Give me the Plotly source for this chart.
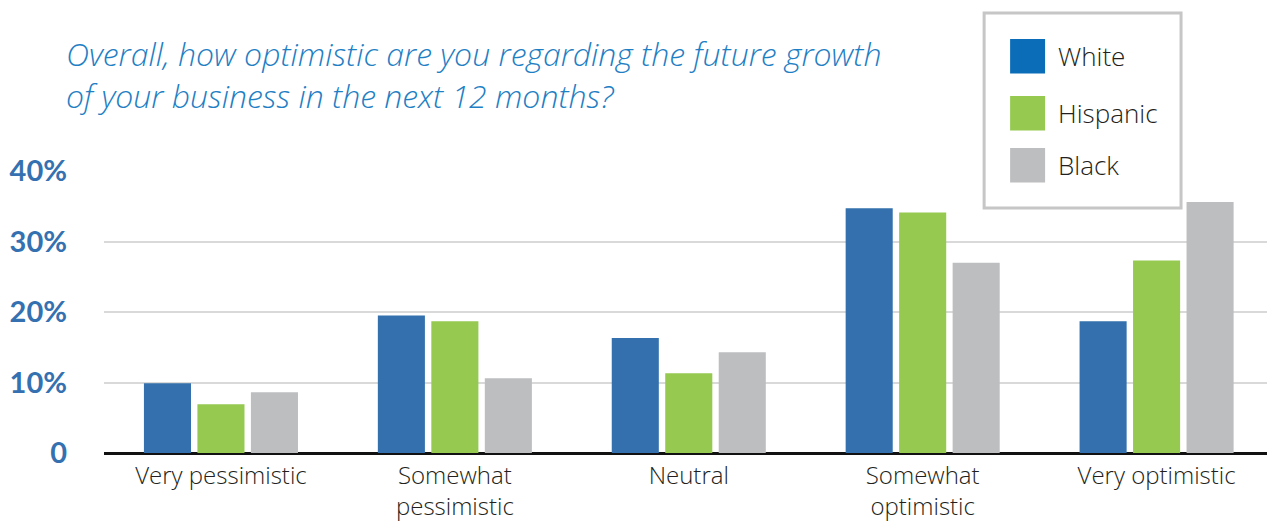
import plotly.graph_objects as go

categories = ["Very pessimistic", "Somewhat<br>pessimistic", "Neutral", "Somewhat<br>optimistic", "Very optimistic"]
series_names = ["White", "Hispanic", "Black"]
white = [9.9, 19.5, 16.3, 34.7, 18.7]
hispanic = [6.9, 18.7, 11.3, 34.1, 27.3]
black = [8.6, 10.6, 14.3, 27.0, 35.6]
y_tickvals = [0, 10, 20, 30, 40]
y_ticktext = ["0", "10%", "20%", "30%", "40%"]
title_text = "Overall, how optimistic are you regarding the future growth<br>of your business in the next 12 months?"

bar_colors = ["#3370ad", "#95c950", "#bdbec0"]
legend_colors = ["#0b6cb8", "#95c950", "#bdbec0"]

W, H = 1267, 522
L, R, T, B = 103.5, 0, 171, 69
plot_w = W - L - R
plot_h = H - T - B

def px_x(x):
    return (x - L) / plot_w

def px_y(y):
    return (H - B - y) / plot_h

fig = go.Figure()
for name, vals, col in zip(series_names, [white, hispanic, black], bar_colors):
    fig.add_trace(go.Bar(x=categories, y=vals, name=name, marker=dict(color=col, line=dict(width=0)),
                         showlegend=False))

# manual legend
shapes = [dict(type="rect", xref="paper", yref="paper",
               x0=px_x(984), x1=px_x(1181), y0=px_y(208), y1=px_y(13),
               line=dict(color="#c6c6c6", width=3), fillcolor="white", layer="above")]
annotations = []
sw_tops = [39, 96, 148]
for name, col, top in zip(series_names, legend_colors, sw_tops):
    shapes.append(dict(type="rect", xref="paper", yref="paper",
                       x0=px_x(1010), x1=px_x(1045), y0=px_y(top + 34.5), y1=px_y(top),
                       line=dict(width=0), fillcolor=col, layer="above"))
    annotations.append(dict(xref="paper", yref="paper", x=px_x(1056), y=px_y(top + 17),
                            xanchor="left", yanchor="middle", showarrow=False, text=name,
                            font=dict(family="Open Sans", size=26, color="#231f20", weight=300)))

fig.update_layout(
    width=W, height=H,
    margin=dict(l=L, r=R, t=T, b=B, pad=0, autoexpand=False),
    paper_bgcolor="white", plot_bgcolor="white",
    barmode="group", bargap=0.314, bargroupgap=0.12,
    title=dict(text=title_text, xref="container", yref="container",
               x=66 / W, y=1 - 66 / H, xanchor="left", yanchor="middle",
               font=dict(family="Open Sans", size=32, color="#1f7fc4", style="italic", weight=300)),
    xaxis=dict(type="category", range=[-0.5, 4.472], showgrid=False, showline=False,
               ticks="", ticklabelstandoff=6, automargin=False,
               tickfont=dict(family="Open Sans", size=24, color="#231f20", weight=300), fixedrange=True),
    yaxis=dict(range=[0, 40], tickvals=y_tickvals, ticktext=y_ticktext, showgrid=True,
               gridcolor="#d9d9d9", gridwidth=2, zeroline=True, zerolinecolor="#111111",
               zerolinewidth=3, showline=False, ticks="", ticklabelstandoff=36, automargin=False,
               tickfont=dict(family="Lato", size=29, color="#3571b0", weight="bold")),
    shapes=shapes, annotations=annotations,
    showlegend=False,
)

fig.write_html("out.html")
